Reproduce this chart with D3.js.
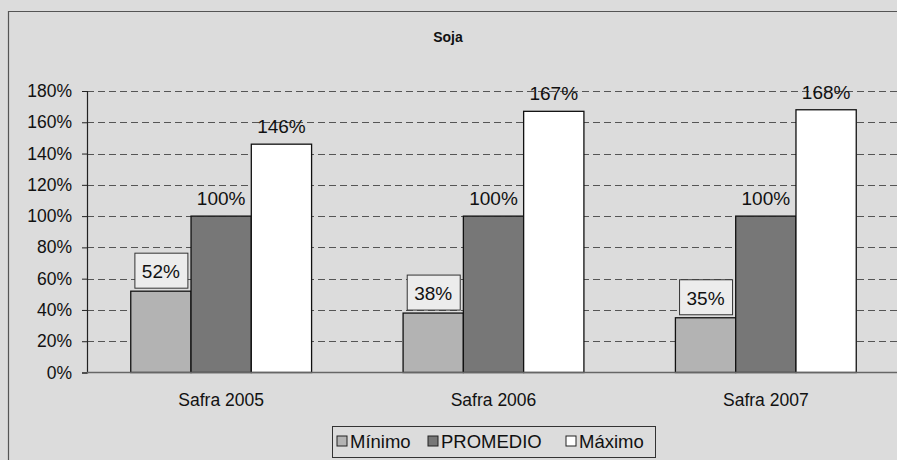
<!DOCTYPE html>
<html>
<head>
<meta charset="utf-8">
<script src="https://cdn.jsdelivr.net/npm/d3@7"></script>
<style>
  html, body { margin: 0; padding: 0; background: #dcdcdc; }
  svg { display: block; }
  text { font-family: "Liberation Sans", Arial, sans-serif; fill: #111; }
</style>
</head>
<body>
<svg id="chart" width="897" height="460"></svg>
<script>
// Soja: índice de rendimiento por safra (PROMEDIO = 100%)
const categories = ["Safra 2005", "Safra 2006", "Safra 2007"];
const seriesNames = ["Mínimo", "PROMEDIO", "Máximo"];
const minimo   = [52, 38, 35];
const promedio = [100, 100, 100];
const maximo   = [146, 167, 168];
const yTicks   = [0, 20, 40, 60, 80, 100, 120, 140, 160, 180];
const title    = "Soja";

const seriesValues = [minimo, promedio, maximo];
const seriesFill   = ["#b3b3b3", "#777777", "#ffffff"];

const W = 897, H = 460;
const plot = { left: 87, right: 897, top: 91, bottom: 372.5 };

const svg = d3.select("#chart");

// chart background and frame
svg.append("rect").attr("x", 0).attr("y", 0).attr("width", W).attr("height", H)
  .attr("fill", "#dcdcdc");
svg.append("path")
  .attr("d", `M8.5,${H} L8.5,11.5 L${W},11.5`)
  .attr("fill", "none").attr("stroke", "#555").attr("stroke-width", 1.2);

// title
svg.append("text").attr("x", 448).attr("y", 42)
  .attr("text-anchor", "middle").attr("font-size", 14).attr("font-weight", "bold")
  .text(title);

const y = d3.scaleLinear().domain([0, 180]).range([plot.bottom, plot.top]);
const x0 = d3.scaleBand().domain(categories).range([85, 902]).padding(0);
const x1 = d3.scaleBand().domain(seriesNames)
  .range([x0.bandwidth() * 0.168, x0.bandwidth() * 0.832]).padding(0);

// dashed gridlines
svg.append("g").selectAll("line")
  .data(yTicks.filter(t => t > 0))
  .join("line")
  .attr("x1", plot.left).attr("x2", plot.right)
  .attr("y1", d => Math.round(y(d)) + 0.5).attr("y2", d => Math.round(y(d)) + 0.5)
  .attr("stroke", "#555").attr("stroke-width", 1)
  .attr("stroke-dasharray", "7,4");

// y axis
const yAxis = d3.axisLeft(y).tickValues(yTicks).tickFormat(d => d + "%")
  .tickSize(5).tickPadding(10);
const gy = svg.append("g").attr("transform", `translate(${plot.left},0)`).call(yAxis);
gy.select(".domain").attr("stroke", "#222").attr("stroke-width", 1.2);
gy.selectAll(".tick line").attr("stroke", "#222");
gy.selectAll(".tick text").attr("font-size", 17.5)
  .attr("font-family", "'Liberation Sans', Arial, sans-serif").attr("fill", "#111");

// bars
const groups = svg.append("g").selectAll("g")
  .data(categories)
  .join("g")
  .attr("transform", d => `translate(${x0(d)},0)`);

seriesNames.forEach((s, si) => {
  groups.append("rect")
    .attr("x", x1(s))
    .attr("width", x1.bandwidth())
    .attr("y", (d, ci) => y(seriesValues[si][ci]))
    .attr("height", (d, ci) => y(0) - y(seriesValues[si][ci]))
    .attr("fill", seriesFill[si])
    .attr("stroke", "#111").attr("stroke-width", 1.3);
});

// x axis line
svg.append("line")
  .attr("x1", plot.left).attr("x2", plot.right)
  .attr("y1", plot.bottom).attr("y2", plot.bottom)
  .attr("stroke", "#666").attr("stroke-width", 1.5);

// category labels
svg.append("g").selectAll("text")
  .data(categories)
  .join("text")
  .attr("x", d => x0(d) + x0.bandwidth() / 2)
  .attr("y", 406)
  .attr("text-anchor", "middle").attr("font-size", 17.5)
  .text(d => d);

// value labels
seriesNames.forEach((s, si) => {
  const lbl = groups.append("g")
    .attr("transform", (d, ci) =>
      `translate(${x1(s) + x1.bandwidth() / 2},${y(seriesValues[si][ci]) - (si === 0 ? 20 : 11)})`);
  if (si === 0) {
    lbl.append("rect")
      .attr("x", -26).attr("y", -18).attr("width", 53).attr("height", 35)
      .attr("fill", "#ececec").attr("stroke", "#333").attr("stroke-width", 1);
    lbl.append("text").attr("text-anchor", "middle").attr("y", 7)
      .attr("font-size", 19)
      .text((d, ci) => seriesValues[si][ci] + "%");
  } else {
    lbl.append("text").attr("text-anchor", "middle")
      .attr("font-size", 19)
      .text((d, ci) => seriesValues[si][ci] + "%");
  }
});

// legend
const legend = svg.append("g");
legend.append("rect").attr("x", 332.5).attr("y", 426.5).attr("width", 323).attr("height", 31)
  .attr("fill", "#dcdcdc").attr("stroke", "#333").attr("stroke-width", 1);
const legendX = [337, 428, 566];
const li = legend.selectAll("g.item")
  .data(seriesNames)
  .join("g").attr("class", "item")
  .attr("transform", (d, i) => `translate(${legendX[i]},441)`);
li.append("rect").attr("x", 0).attr("y", -5).attr("width", 10).attr("height", 10)
  .attr("fill", (d, i) => seriesFill[i]).attr("stroke", "#222").attr("stroke-width", 1);
li.append("text").attr("x", 13).attr("y", 6.5).attr("font-size", 18.5)
  .text(d => d);
</script>
</body>
</html>
